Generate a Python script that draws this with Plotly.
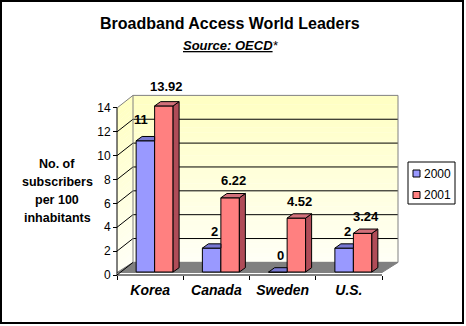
import plotly.graph_objects as go

# ---- data -----------------------------------------------------------------
CATEGORIES = ["Korea", "Canada", "Sweden", "U.S."]
YEARS = ["2000", "2001"]
SUBSCRIBERS_2000 = [11, 2, 0, 2]
SUBSCRIBERS_2001 = [13.92, 6.22, 4.52, 3.24]
Y_TICKS = [0, 2, 4, 6, 8, 10, 12, 14]

SERIES = [SUBSCRIBERS_2000, SUBSCRIBERS_2001]

# ---- look -----------------------------------------------------------------
FONT = "Liberation Sans, Arial, sans-serif"
W, H = 466, 326
L, R, T, B = 110, 400, 93, 280          # plot area (px)
AX_X, AX_Y = 117, 275                   # corner where the front axes meet (px)
CAT_PX = 66.25                          # px per category
UNIT_PX = 11.93                         # px per subscriber unit

X_RANGE = [-0.5 - (AX_X - L) / CAT_PX, -0.5 + (R - AX_X) / CAT_PX]
Y_RANGE = [-(B - AX_Y) / UNIT_PX, (AX_Y - T) / UNIT_PX]
Y_MAX = Y_TICKS[-1]

# pseudo-3D depth offsets, in axis units
WALL_DX, WALL_DY = 16 / CAT_PX, 12.6 / UNIT_PX
FLOOR_DY = 2.5 / UNIT_PX
BAR_BASE = 3 / UNIT_PX
DEPTH_DX, DEPTH_DY = 6 / CAT_PX, 4.3 / UNIT_PX
BAR_W = 0.279
OFFSETS = [-0.2113, 0.068]

# extra pixel nudges for crowded value labels: (series, category) -> (dx, dy)
LABEL_NUDGE = {(0, 0): (-7, 4), (1, 0): (0, 2)}

FRONT = ["#9999FF", "#FF8080"]
TOP = ["#7878D2", "#D2707A"]
SIDE = ["#5E5EAA", "#B04C58"]
WALL_EDGE = "#808080"
FLOOR = "#808080"


def paper(px, py):
    return (px - L) / (R - L), (B - py) / (B - T)


def lerp_color(c0, c1, t):
    return "rgb(%d,%d,%d)" % tuple(round(a + (b - a) * t) for a, b in zip(c0, c1))


shapes = []
N_START, N_END = -0.5, len(CATEGORIES) - 0.5
XB0, XB1 = N_START + WALL_DX, N_END + WALL_DX

# back wall and side wall with a pale-yellow vertical gradient
WALL_BOTTOM_RGB, WALL_TOP_RGB = (255, 255, 246), (255, 255, 194)
N_STRIPS = 36
for k in range(N_STRIPS):
    v0 = Y_MAX * k / N_STRIPS
    v1 = Y_MAX * (k + 1) / N_STRIPS + (0.02 if k < N_STRIPS - 1 else 0)
    col = lerp_color(WALL_BOTTOM_RGB, WALL_TOP_RGB, (k + 0.5) / N_STRIPS)
    shapes.append(dict(type="rect", xref="x", yref="y", layer="below",
                       x0=XB0, x1=XB1, y0=v0 + WALL_DY, y1=v1 + WALL_DY,
                       fillcolor=col, line=dict(width=0)))
    shapes.append(dict(type="path", xref="x", yref="y", layer="below",
                       path=f"M{N_START},{v0} L{N_START},{v1} "
                            f"L{XB0},{v1 + WALL_DY} L{XB0},{v0 + WALL_DY} Z",
                       fillcolor=col, line=dict(width=0)))

# floor
shapes.append(dict(type="path", xref="x", yref="y", layer="below",
                   path=f"M{N_START},{FLOOR_DY} L{N_END},{FLOOR_DY} "
                        f"L{XB1},{WALL_DY} L{XB0},{WALL_DY} Z",
                   fillcolor=FLOOR, line=dict(color=FLOOR, width=1)))

# gridlines on the back wall and their connectors on the side wall
for v in Y_TICKS:
    if 0 < v < Y_MAX:
        shapes.append(dict(type="line", xref="x", yref="y", layer="below",
                           x0=XB0, x1=XB1, y0=v + WALL_DY, y1=v + WALL_DY,
                           line=dict(color="black", width=1)))
    if v < Y_MAX:
        shapes.append(dict(type="line", xref="x", yref="y", layer="below",
                           x0=N_START, x1=XB0, y0=v, y1=v + WALL_DY,
                           line=dict(color="black", width=1)))

# wall outlines
shapes.append(dict(type="rect", xref="x", yref="y", layer="below",
                   x0=XB0, x1=XB1, y0=WALL_DY, y1=Y_MAX + WALL_DY,
                   line=dict(color=WALL_EDGE, width=1)))
shapes.append(dict(type="line", xref="x", yref="y", layer="below",
                   x0=N_START, x1=XB0, y0=Y_MAX, y1=Y_MAX + WALL_DY,
                   line=dict(color=WALL_EDGE, width=1)))

# front axis lines
shapes.append(dict(type="line", xref="x", yref="y", x0=N_START, x1=N_START,
                   y0=0, y1=Y_MAX, line=dict(color="black", width=1)))
shapes.append(dict(type="line", xref="x", yref="y", x0=N_START, x1=N_END,
                   y0=0, y1=0, line=dict(color="black", width=1)))

# outer frame
fx0, fy0 = paper(1, 1)
fx1, fy1 = paper(463, 323)
shapes.append(dict(type="rect", xref="paper", yref="paper",
                   x0=fx0, x1=fx1, y0=fy1, y1=fy0,
                   line=dict(color="black", width=2)))

# ---- traces ---------------------------------------------------------------
fig = go.Figure()
xs = list(range(len(CATEGORIES)))

for s, vals in enumerate(SERIES):
    fig.add_trace(go.Bar(
        x=xs, y=vals, base=BAR_BASE, offset=OFFSETS[s], width=BAR_W,
        name=YEARS[s], showlegend=False, hoverinfo="skip",
        marker=dict(color=FRONT[s], line=dict(color="black", width=1)),
    ))

annotations = []
for s, vals in enumerate(SERIES):
    for i, v in enumerate(vals):
        x0 = i + OFFSETS[s]
        x1 = x0 + BAR_W
        top = BAR_BASE + v
        # right side face only where no taller neighbour hides it
        nxt = SERIES[s + 1][i] if s + 1 < len(SERIES) else None
        hidden_side = nxt is not None and nxt >= v
        if not hidden_side:
            fig.add_trace(go.Scatter(
                x=[x1, x1, x1 + DEPTH_DX, x1 + DEPTH_DX, x1],
                y=[BAR_BASE, top, top + DEPTH_DY, BAR_BASE + DEPTH_DY, BAR_BASE],
                mode="lines", fill="toself", fillcolor=SIDE[s],
                line=dict(color="black", width=1),
                showlegend=False, hoverinfo="skip"))
        if nxt is not None and nxt >= v + DEPTH_DY:
            tx = [x0, x1, x1, x0 + DEPTH_DX, x0]
            ty = [top, top, top + DEPTH_DY, top + DEPTH_DY, top]
        else:
            tx = [x0, x1, x1 + DEPTH_DX, x0 + DEPTH_DX, x0]
            ty = [top, top, top + DEPTH_DY, top + DEPTH_DY, top]
        fig.add_trace(go.Scatter(
            x=tx, y=ty, mode="lines", fill="toself", fillcolor=TOP[s],
            line=dict(color="black", width=1),
            showlegend=False, hoverinfo="skip"))
        ndx, ndy = LABEL_NUDGE.get((s, i), (0, 0))
        annotations.append(dict(
            xref="x", yref="y", x=x0 + BAR_W / 2 + DEPTH_DX / 2, y=top,
            xshift=ndx, yshift=17 + ndy, text=f"<b>{v:g}</b>", showarrow=False,
            xanchor="center", yanchor="middle",
            font=dict(family=FONT, size=13, color="black")))

# ---- titles ---------------------------------------------------------------
tx, ty = paper(230, 23)
annotations.append(dict(xref="paper", yref="paper", x=tx, y=ty,
                        text="<b>Broadband Access World Leaders</b>",
                        showarrow=False, xanchor="center", yanchor="middle",
                        font=dict(family=FONT, size=16, color="black")))
tx, ty = paper(230.5, 45)
annotations.append(dict(xref="paper", yref="paper", x=tx, y=ty,
                        text="<b><i><u>Source: OECD</u></i></b><i>*</i>",
                        showarrow=False, xanchor="center", yanchor="middle",
                        font=dict(family=FONT, size=13, color="black")))

for line, py in zip(["No. of", "subscribers", "per 100", "inhabitants"],
                    [164, 182, 200, 218]):
    ax_, ay_ = paper(57, py)
    annotations.append(dict(xref="paper", yref="paper", x=ax_, y=ay_,
                            text=f"<b>{line}</b>", showarrow=False,
                            xanchor="center", yanchor="middle",
                            font=dict(family=FONT, size=12.5, color="black")))

# ---- legend ---------------------------------------------------------------
lx0, ly0 = paper(408, 162)
lx1, ly1 = paper(455, 204)
shapes.append(dict(type="rect", xref="paper", yref="paper",
                   x0=lx0, x1=lx1, y0=ly1, y1=ly0,
                   fillcolor="white", line=dict(color="black", width=1)))
for s, py in enumerate([173.5, 195]):
    sx0, sy0 = paper(413, py - 3.5)
    sx1, sy1 = paper(420, py + 3.5)
    shapes.append(dict(type="rect", xref="paper", yref="paper",
                       x0=sx0, x1=sx1, y0=sy1, y1=sy0,
                       fillcolor=FRONT[s], line=dict(color="black", width=1)))
    tx, ty = paper(421.5, py)
    annotations.append(dict(xref="paper", yref="paper", x=tx, y=ty,
                            text=YEARS[s], showarrow=False,
                            xanchor="left", yanchor="middle",
                            font=dict(family=FONT, size=12, color="black")))

# ---- layout ---------------------------------------------------------------
fig.update_layout(
    width=W, height=H,
    margin=dict(l=L, r=W - R, t=T, b=H - B, pad=0),
    paper_bgcolor="white", plot_bgcolor="white",
    barmode="overlay", showlegend=False,
    shapes=shapes, annotations=annotations,
    font=dict(family=FONT, color="black"),
    xaxis=dict(
        range=X_RANGE, anchor="free", position=(B - AX_Y) / (B - T),
        tickmode="array", tickvals=xs,
        ticktext=[f"<b><i>{c}</i></b>" for c in CATEGORIES],
        ticks="", tickfont=dict(family=FONT, size=14, color="black"),
        ticklabelstandoff=5,
        minor=dict(tickmode="array", tickvals=[i - 0.5 for i in range(len(CATEGORIES) + 1)],
                   ticks="outside", ticklen=4, tickcolor="black", tickwidth=1),
        showgrid=False, zeroline=False, showline=False, fixedrange=True,
    ),
    yaxis=dict(
        range=Y_RANGE, anchor="free", position=(AX_X - L) / (R - L),
        tickmode="array", tickvals=Y_TICKS,
        ticks="outside", ticklen=4, tickcolor="black", tickwidth=1,
        tickfont=dict(family=FONT, size=12, color="black"),
        showgrid=False, zeroline=False, showline=False, fixedrange=True,
    ),
)

fig.write_html("out.html")
